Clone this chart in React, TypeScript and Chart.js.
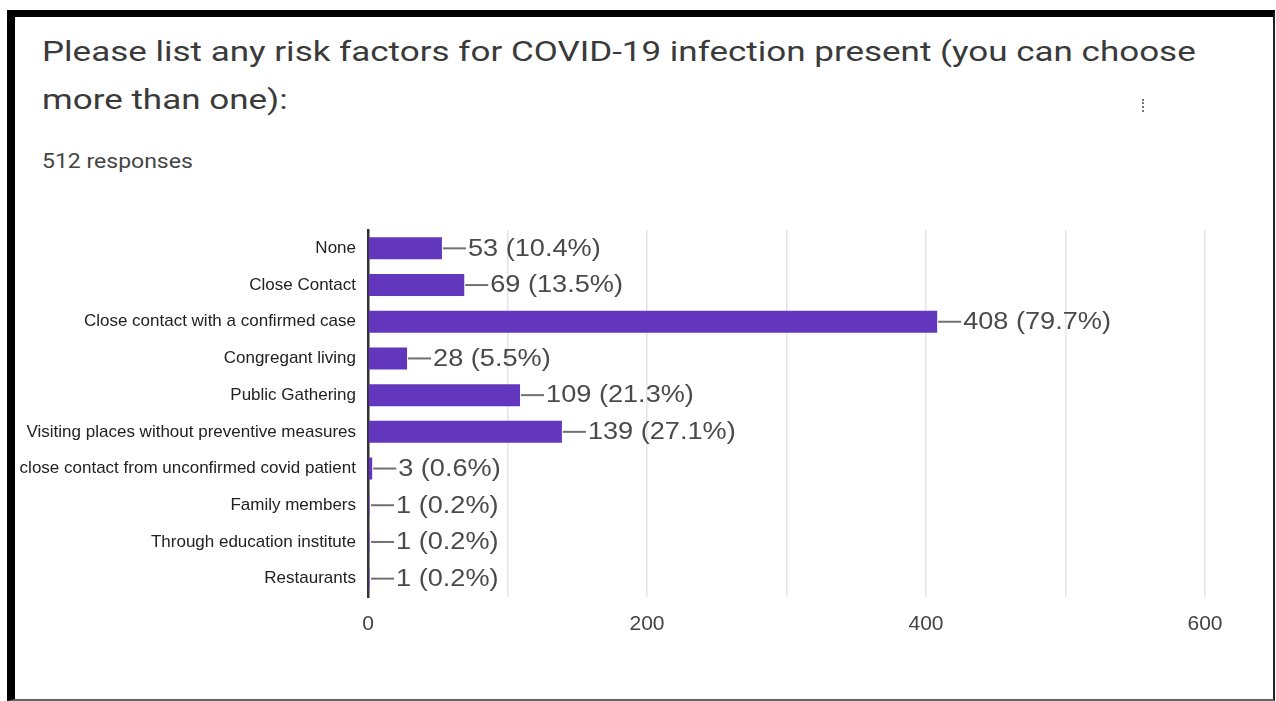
import React, { useEffect, useRef } from "react";
import { Chart, registerables } from "chart.js";

Chart.register(...registerables);

const titleLine1 = "Please list any risk factors for COVID-19 infection present (you can choose";
const titleLine2 = "more than one):";
const responsesText = "512 responses";

const categories = [
  "None",
  "Close Contact",
  "Close contact with a confirmed case",
  "Congregant living",
  "Public Gathering",
  "Visiting places without preventive measures",
  "close contact from unconfirmed covid patient",
  "Family members",
  "Through education institute",
  "Restaurants",
];
const counts = [53, 69, 408, 28, 109, 139, 3, 1, 1, 1];
const percents = ["10.4%", "13.5%", "79.7%", "5.5%", "21.3%", "27.1%", "0.6%", "0.2%", "0.2%", "0.2%"];
const xTickLabels = [0, 200, 400, 600];
const xMin = 0;
const xMax = 600;
const xStep = 100;

const BAR_COLOR = "#6337bd";

const dataLabelPlugin = {
  id: "dataLabels",
  afterDatasetsDraw(chart: any) {
    const ctx = chart.ctx as CanvasRenderingContext2D;
    const meta = chart.getDatasetMeta(0);
    ctx.save();
    meta.data.forEach((bar: any, i: number) => {
      const x = Math.max(bar.x, chart.chartArea.left + 2);
      const y = bar.y;
      ctx.strokeStyle = "#707070";
      ctx.lineWidth = 2;
      ctx.beginPath();
      ctx.moveTo(x + 1, y);
      ctx.lineTo(x + 24, y);
      ctx.stroke();
      ctx.save();
      ctx.translate(x + 26, y + 1);
      ctx.scale(1.18, 1);
      ctx.font = "23px 'Liberation Sans', Arial, sans-serif";
      ctx.fillStyle = "#4a4a4a";
      ctx.textBaseline = "middle";
      ctx.textAlign = "left";
      ctx.fillText(`${counts[i]} (${percents[i]})`, 0, 0);
      ctx.restore();
    });
    ctx.restore();
  },
};

function ChartCanvas() {
  const ref = useRef<HTMLCanvasElement | null>(null);
  useEffect(() => {
    if (!ref.current) return;
    const chart = new Chart(ref.current, {
      type: "bar",
      data: {
        labels: categories,
        datasets: [
          {
            data: counts,
            backgroundColor: BAR_COLOR,
            borderWidth: 0,
            barPercentage: 0.6,
            categoryPercentage: 1,
          },
        ],
      },
      options: {
        indexAxis: "y",
        animation: false,
        responsive: false,
        devicePixelRatio: 1,
        layout: { padding: { top: 30, right: 60, left: 0, bottom: 0 } },
        plugins: { legend: { display: false }, tooltip: { enabled: false }, title: { display: false } },
        scales: {
          x: {
            min: xMin,
            max: xMax,
            afterFit(scale: any) {
              scale.height = 63;
            },
            ticks: {
              stepSize: xStep,
              autoSkip: false,
              maxRotation: 0,
              padding: 15,
              color: "#444",
              font: { family: "'Liberation Sans', Arial, sans-serif", size: 21 },
              callback: (v: any) => (xTickLabels.includes(Number(v)) ? String(v) : ""),
            },
            grid: {
              drawTicks: false,
              color: (c: any) => (c.tick && c.tick.value === 0 ? "rgba(0,0,0,0)" : "#e4e4e4"),
              lineWidth: 1.5,
            },
            border: { display: false },
          },
          y: {
            afterFit(scale: any) {
              scale.width = 353;
            },
            ticks: {
              autoSkip: false,
              padding: 12,
              color: "#222",
              font: { family: "'Liberation Sans', Arial, sans-serif", size: 17 },
            },
            grid: { drawTicks: false, color: "rgba(0,0,0,0)" },
            border: { display: true, color: "#333", width: 2.5 },
          },
        },
      },
      plugins: [dataLabelPlugin],
    });
    return () => chart.destroy();
  }, []);
  return (
    <canvas
      ref={ref}
      width={1250}
      height={460}
      style={{ position: "absolute", left: 15, top: 200, width: 1250, height: 460 }}
    />
  );
}

export default function App() {
  const titleStyle: React.CSSProperties = {
    position: "absolute",
    left: 42,
    fontFamily: "Roboto, 'Noto Sans', sans-serif",
    fontSize: 27,
    lineHeight: "30px",
    color: "#3a3a3a",
    whiteSpace: "nowrap",
    transform: "scaleX(1.296)",
    transformOrigin: "left top",
  };
  return (
    <div style={{ position: "fixed", left: 0, top: 0, width: 1276, height: 701, background: "#fff", overflow: "hidden" }}>
      <div
        style={{
          position: "absolute",
          left: 7,
          top: 10,
          width: 1268,
          height: 691,
          boxSizing: "border-box",
          borderLeft: "8px solid #000",
          borderTop: "7px solid #000",
          borderRight: "2px solid #222",
          borderBottom: "2px solid #666",
        }}
      />
      <div style={{ ...titleStyle, top: 37 }}>{titleLine1}</div>
      <div style={{ ...titleStyle, top: 85 }}>{titleLine2}</div>
      <div
        style={{
          ...titleStyle,
          top: 149,
          fontSize: 20,
          lineHeight: "24px",
          color: "#444",
          transform: "scaleX(1.15)",
        }}
      >
        {responsesText}
      </div>
      <div style={{ position: "absolute", left: 1142, top: 99, width: 2, height: 13, borderLeft: "2px dotted #777" }} />
      <ChartCanvas />
    </div>
  );
}
